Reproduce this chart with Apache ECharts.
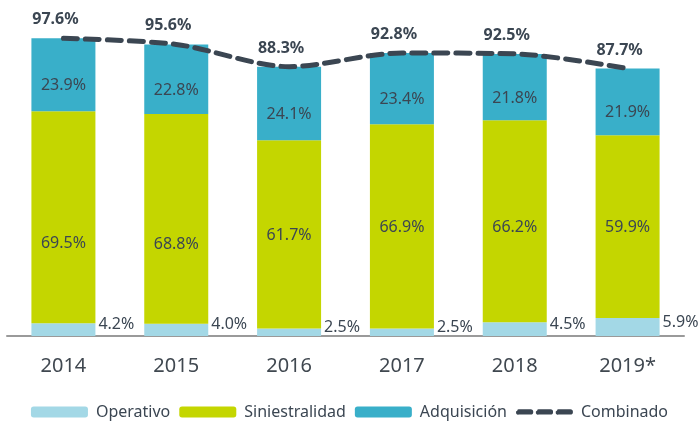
<!DOCTYPE html>
<html>
<head>
<meta charset="utf-8">
<script src="https://cdn.jsdelivr.net/npm/echarts@6/dist/echarts.min.js"></script>
<style>
  html, body { margin: 0; padding: 0; background: #fff; }
  #chart { width: 699px; height: 426px; }
</style>
</head>
<body>
<div id="chart"></div>
<script>
const years = ['2014', '2015', '2016', '2017', '2018', '2019*'];
const operativo = [4.2, 4.0, 2.5, 2.5, 4.5, 5.9];
const siniestralidad = [69.5, 68.8, 61.7, 66.9, 66.2, 59.9];
const adquisicion = [23.9, 22.8, 24.1, 23.4, 21.8, 21.9];
const combinado = [97.6, 95.6, 88.3, 92.8, 92.5, 87.7];

// vertical nudges of the Siniestralidad labels, as placed in the original
const sinLabelShift = [26, 26, 1, 1, 6, 1];

const textColor = '#3b4652';
const fontFamily = '"Noto Sans", sans-serif';

const chart = echarts.init(document.getElementById('chart'));

const pct = p => p.value.toFixed(1) + '%';

// three rounded dashes for the Combinado legend entry
const dashIcon = 'path://M1,4 a1,1 0 0,1 1,-1 h9 a1,1 0 0,1 0,4 h-9 a1,1 0 0,1 -1,-3 z' +
    'M16,4 a1,1 0 0,1 1,-1 h9 a1,1 0 0,1 0,4 h-9 a1,1 0 0,1 -1,-3 z' +
    'M31,4 a1,1 0 0,1 1,-1 h9 a1,1 0 0,1 0,4 h-9 a1,1 0 0,1 -1,-3 z';

chart.setOption({
    animation: false,
    textStyle: { fontFamily: fontFamily },
    grid: { left: 7, right: 15, top: 31, bottom: 90 },
    legend: {
        bottom: 1,
        left: 'center',
        itemWidth: 57,
        itemHeight: 11,
        itemGap: 9,
        textStyle: { fontSize: 16, color: textColor, fontFamily: fontFamily, padding: [0, 0, 0, 3] },
        data: ['Operativo', 'Siniestralidad', 'Adquisición',
            { name: 'Combinado', icon: dashIcon, itemStyle: { color: '#3b4652' } }]
    },
    xAxis: {
        type: 'category',
        data: years,
        axisLine: { lineStyle: { color: '#9a9a9a', width: 2 } },
        axisTick: { show: false },
        axisLabel: { fontSize: 20, color: '#404850', margin: 20 }
    },
    yAxis: {
        type: 'value',
        min: 0,
        max: 100,
        show: false,
        splitLine: { show: false }
    },
    series: [
        {
            name: 'Operativo',
            type: 'bar',
            stack: 'total',
            barWidth: 64,
            itemStyle: { color: '#a3d8e6' },
            label: {
                show: true,
                position: 'right',
                distance: 3,
                offset: [0, -5],
                fontSize: 16,
                color: textColor,
                formatter: pct
            },
            data: operativo
        },
        {
            name: 'Siniestralidad',
            type: 'bar',
            stack: 'total',
            itemStyle: { color: '#c4d600' },
            label: {
                show: true,
                position: 'inside',
                fontSize: 16,
                color: textColor,
                formatter: pct
            },
            data: siniestralidad.map((v, i) => ({
                value: v,
                label: { offset: [0, sinLabelShift[i]] }
            }))
        },
        {
            name: 'Adquisición',
            type: 'bar',
            stack: 'total',
            itemStyle: { color: '#39afc9' },
            label: {
                show: true,
                position: 'inside',
                offset: [0, 11],
                fontSize: 16,
                color: textColor,
                formatter: pct
            },
            data: adquisicion
        },
        {
            name: 'Combinado',
            type: 'line',
            smooth: 0.3,
            symbol: 'circle',
            symbolSize: 1,
            showSymbol: true,
            z: 5,
            lineStyle: { color: '#3b4652', width: 5, type: [14, 8], cap: 'round' },
            itemStyle: { color: 'rgba(0,0,0,0)' },
            label: {
                show: true,
                position: 'top',
                distance: 10,
                offset: [-8, 0],
                fontSize: 16,
                fontWeight: 'bold',
                color: textColor,
                formatter: pct
            },
            data: combinado
        }
    ]
});
</script>
</body>
</html>
